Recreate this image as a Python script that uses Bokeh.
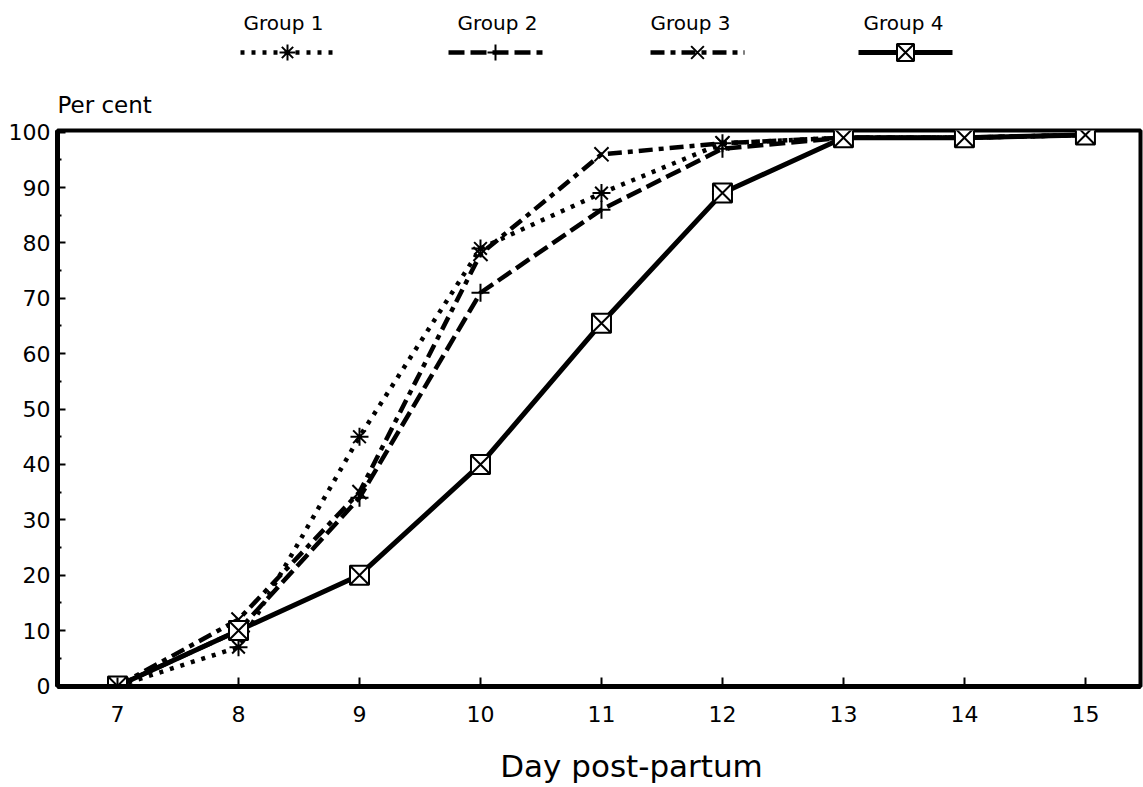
from bokeh.plotting import figure
from bokeh.models import Range1d, FixedTicker
from bokeh.layouts import column
from bokeh.embed import file_html
from bokeh.resources import INLINE
from bokeh.core.properties import value

# ---- data ----
days = [7, 8, 9, 10, 11, 12, 13, 14, 15]
group1 = [0, 7, 45, 79, 89, 98, 99, 99, 99.5]
group2 = [0, 10, 34, 71, 86, 97, 99, 99, 99.5]
group3 = [0, 12, 35, 78, 96, 98, 99, 99, 99.5]
group4 = [0, 10, 20, 40, 65.5, 89, 99, 99, 99.5]
series_names = ["Group 1", "Group 2", "Group 3", "Group 4"]
x_ticks = [7, 8, 9, 10, 11, 12, 13, 14, 15]
y_ticks = [0, 10, 20, 30, 40, 50, 60, 70, 80, 90, 100]
x_title = "Day post-partum"
y_title = "Per cent"

series = [group1, group2, group3, group4]

# ---- styles / layout ----
FONT = "DejaVu Sans"
dashes = ["4 7", "16 6", "14 6 5 6", "solid"]
markers = ["asterisk", "cross", "x", "square_x"]
msizes = [18, 18, 20, 19]
lwidths = [4.5, 4.5, 4.5, 5]
legend_text_x = [283, 497, 690, 903]     # pixel layout of legend strip
legend_line_x = [287, 495, 697, 905]

W = 1143
TOP_H = 120
MAIN_H = 614
BOT_H = 53
BL = 57
BR = 3


def strip(h):
    f = figure(width=W, height=h, x_range=Range1d(BL, W - BR), y_range=Range1d(h, 0),
               output_backend="svg", toolbar_location=None,
               min_border_left=BL, min_border_right=BR, min_border_top=0, min_border_bottom=0)
    f.axis.visible = False
    f.grid.visible = False
    f.outline_line_color = None
    return f


# ---- top strip: legend and y title ----
top = strip(TOP_H)
for name, tx, c, d, m, s, lw in zip(series_names, legend_text_x, legend_line_x, dashes, markers, msizes, lwidths):
    top.line([c - 47, c + 47], [52, 52], line_color="black", line_width=lw, line_dash=d)
    fill = "white" if m == "square_x" else "black"
    top.scatter([c], [52], marker=m, size=s - 2, line_color="black", line_width=2, fill_color=fill)
    top.text([tx], [22], text=[name], text_align="center", text_baseline="middle",
             text_font=value(FONT), text_font_size="20px", text_color="black")
top.text([BL], [104], text=[y_title], text_align="left", text_baseline="middle",
         text_font=value(FONT), text_font_size="23px", text_color="black")

# ---- main plot ----
p = figure(width=W, height=MAIN_H, x_range=Range1d(6.504, 15.455), y_range=Range1d(-0.1, 100.3),
           output_backend="svg", toolbar_location=None,
           min_border_left=BL, min_border_right=BR, min_border_top=10, min_border_bottom=48)
p.grid.visible = False
p.outline_line_color = "black"
p.outline_line_width = 4
p.outline_line_alpha = 1

xa = p.xaxis[0]
xa.ticker = FixedTicker(ticks=x_ticks)
xa.major_label_text_font = FONT
xa.major_label_text_font_size = "22px"
xa.major_label_text_color = "black"
xa.major_label_standoff = 19
xa.axis_line_width = 5
xa.major_tick_in = 9
xa.major_tick_out = 0
xa.major_tick_line_width = 2
xa.minor_tick_line_color = None

ya = p.yaxis[0]
ya.ticker = FixedTicker(ticks=y_ticks, minor_ticks=[v + 5 for v in y_ticks[:-1]])
ya.major_label_text_font = FONT
ya.major_label_text_font_size = "22px"
ya.major_label_text_color = "black"
ya.major_label_standoff = 7
ya.axis_line_width = 5
ya.major_tick_in = 8
ya.major_tick_out = 0
ya.major_tick_line_width = 2
ya.minor_tick_in = 4
ya.minor_tick_out = 0
ya.minor_tick_line_width = 2

for vals, d, m, s, lw in zip(series, dashes, markers, msizes, lwidths):
    p.line(days, vals, line_color="black", line_width=lw, line_dash=d)
    fill = "white" if m == "square_x" else "black"
    p.scatter(days, vals, marker=m, size=s, line_color="black", line_width=2, fill_color=fill)

# ---- bottom strip: x title ----
bot = strip(BOT_H)
bot.text([631], [31], text=[x_title], text_align="center", text_baseline="middle",
         text_font=value(FONT), text_font_size="31px", text_color="black")

layout = column(top, p, bot, spacing=0)
open("out.html", "w").write(file_html(layout, INLINE))
